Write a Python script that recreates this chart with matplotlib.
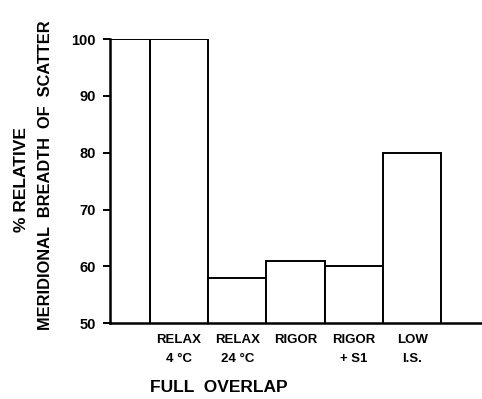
import numpy as np
import matplotlib.pyplot as plt

plt.rcParams['font.family'] = ['Liberation Sans', 'DejaVu Sans']
plt.rcParams['font.weight'] = 'bold'

labels = ['RELAX\n4 \u00b0C', 'RELAX\n24 \u00b0C', 'RIGOR', 'RIGOR\n+ S1', 'LOW\nI.S.']
values = [100, 58, 61, 60, 80]
overlap_value = 100

fig = plt.figure(figsize=(4.82, 3.99), dpi=100)
ax = fig.add_axes([0.228, 0.19, 0.772, 0.712])

x = np.arange(len(values))
ax.bar(x, values, width=1.0, bottom=0, color='white', edgecolor='black', linewidth=1.4)
# narrow unlabeled full-overlap bar at the left
ax.bar(-0.843, overlap_value, width=0.686, color='white', edgecolor='black', linewidth=1.4)

ax.set_ylim(50, 100)
ax.set_xlim(-1.186, 5.2)
ax.set_yticks([50, 60, 70, 80, 90, 100])
ax.set_xticks(x)
ax.set_xticklabels(labels, fontsize=9.5, fontweight='bold', linespacing=1.75)
ax.tick_params(axis='x', length=0, pad=8)
ax.tick_params(axis='y', length=5, width=1.4, labelsize=10.5, pad=5)
for t in ax.get_yticklabels():
    t.set_fontweight('bold')

for s in ['top', 'right']:
    ax.spines[s].set_visible(False)
for s in ['left', 'bottom']:
    ax.spines[s].set_linewidth(1.8)

fig.text(0.044, 0.55, '% RELATIVE', rotation=90, ha='center', va='center',
         fontsize=12.5, fontweight='bold')
fig.text(0.095, 0.56, 'MERIDIONAL  BREADTH  OF  SCATTER', rotation=90, ha='center',
         va='center', fontsize=11.8, fontweight='bold')
fig.text(0.311, 0.028, 'FULL  OVERLAP', ha='left', va='center', fontsize=12.5, fontweight='bold')

fig.savefig('out.png', dpi=100)
